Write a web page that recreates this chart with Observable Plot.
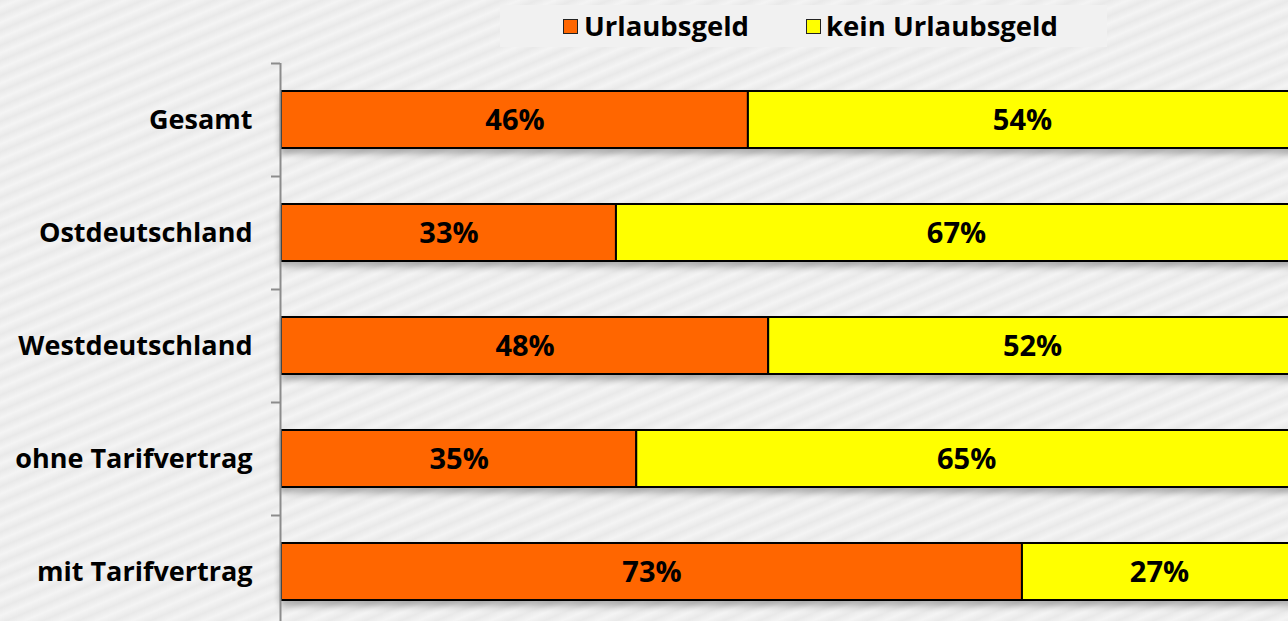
<!DOCTYPE html>
<html>
<head>
<meta charset="utf-8">
<script src="https://cdn.jsdelivr.net/npm/d3@7"></script>
<script src="https://cdn.jsdelivr.net/npm/@observablehq/plot@0.6"></script>
<style>
  html, body { margin: 0; padding: 0; }
  body {
    width: 1288px; height: 621px; overflow: hidden; position: relative;
    font-family: "Open Sans", "Noto Sans", sans-serif;
    background: repeating-linear-gradient(157deg, #e9e9e9 0px, #f4f4f4 7px, #e9e9e9 14px);
  }
  #legend {
    position: absolute; left: 500px; top: 5px; width: 607px; height: 42px;
    background: #f1f1f1;
  }
  .sw { position: absolute; top: 14px; width: 13px; height: 13px; border: 1.5px solid #222; }
  .lt { position: absolute; top: 4px; font-size: 27.5px; font-weight: bold; color: #000; line-height: 34px; white-space: nowrap; }
  #chart { position: absolute; left: 0; top: 63px; }
</style>
</head>
<body>
<div id="legend"></div>
<div id="chart"></div>
<script>
const categories = ["Gesamt", "Ostdeutschland", "Westdeutschland", "ohne Tarifvertrag", "mit Tarifvertrag"];
const seriesNames = ["Urlaubsgeld", "kein Urlaubsgeld"];
const urlaubsgeld = [46, 33, 48, 35, 73];
const keinUrlaubsgeld = [54, 67, 52, 65, 27];
const seriesColors = ["#ff6600", "#ffff00"];

const data = [];
categories.forEach((c, i) => {
  data.push({cat: c, type: seriesNames[0], value: urlaubsgeld[i]});
  data.push({cat: c, type: seriesNames[1], value: keinUrlaubsgeld[i]});
});

// legend
const legend = document.getElementById("legend");
const legendPos = [[63, 84], [306, 326]];
seriesNames.forEach((n, i) => {
  const sw = document.createElement("div");
  sw.className = "sw";
  sw.style.left = legendPos[i][0] + "px";
  sw.style.background = seriesColors[i];
  legend.appendChild(sw);
  const t = document.createElement("div");
  t.className = "lt";
  t.style.left = legendPos[i][1] + "px";
  t.textContent = n;
  legend.appendChild(t);
});

const chart = Plot.plot({
  width: 1288,
  height: 565,
  marginTop: 0,
  marginBottom: 0,
  marginLeft: 281,
  marginRight: 0,
  style: {background: "transparent", color: "#000", fontFamily: "'Open Sans', 'Noto Sans', sans-serif", overflow: "visible"},
  x: {domain: [0, 100], range: [281, 1296], axis: null},
  y: {domain: categories, paddingInner: 0.5, paddingOuter: 0.25, axis: null},
  color: {domain: seriesNames, range: seriesColors},
  marks: [
    Plot.barX(data, Plot.stackX({x: "value", y: "cat", z: "type", fill: "type", stroke: "#000", strokeWidth: 2, className: "bars"})),
    Plot.text(data, Plot.stackX({x: "value", y: "cat", z: "type", text: d => d.value + "%", fill: "#000", fontSize: 29, fontWeight: "bold", dy: 1})),
    Plot.ruleX([0], {stroke: "#8c8c8c", strokeWidth: 2, dx: -1}),
    Plot.axisY({tickSize: 9, tickFormat: () => "", label: null, dy: -56.5, dx: -1, stroke: "#8c8c8c", strokeWidth: 2}),
    Plot.axisY({tickSize: 0, tickPadding: 29, label: null, fontSize: 27, fontWeight: "bold", fill: "#000"})
  ]
});
document.getElementById("chart").appendChild(chart);
d3.select(chart).selectAll("g.bars, g[aria-label='bar']").style("filter", "drop-shadow(0px 5px 3px rgba(0,0,0,0.28))");
</script>
</body>
</html>
